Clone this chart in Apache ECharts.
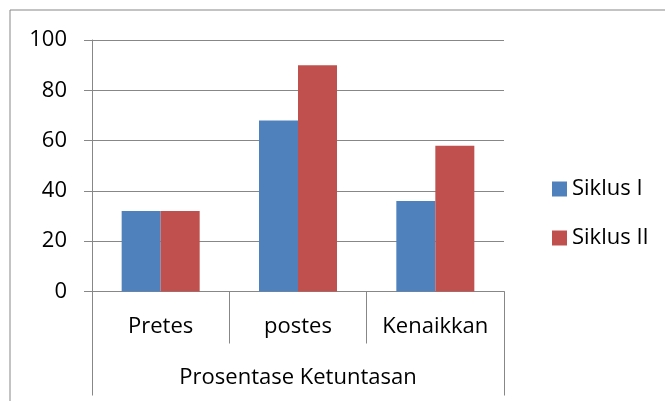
<!DOCTYPE html>
<html>
<head>
<meta charset="utf-8">
<script src="https://cdn.jsdelivr.net/npm/echarts@6/dist/echarts.min.js"></script>
<style>
html,body{margin:0;padding:0;background:#fff;}
#c{width:665px;height:401px;}
</style>
</head>
<body>
<div id="c"></div>
<script>
const categories = ['Pretes', 'postes', 'Kenaikkan'];
const groupLabel = ['Prosentase Ketuntasan'];
const siklus1 = [32, 68, 36];
const siklus2 = [32, 90, 58];
const seriesNames = ['Siklus I', 'Siklus II'];

const FONT = '"Open Sans", "Noto Sans", sans-serif';
const LINE = '#878787';
const chart = echarts.init(document.getElementById('c'), null, {renderer: 'canvas'});
chart.setOption({
  animation: false,
  backgroundColor: '#fff',
  textStyle: {fontFamily: FONT},
  graphic: [{
    type: 'rect',
    shape: {x: 10, y: 10, width: 700, height: 450},
    style: {fill: 'none', stroke: LINE, lineWidth: 1},
    silent: true
  }],
  legend: {
    orient: 'vertical',
    left: 547,
    top: 173,
    itemWidth: 15,
    itemHeight: 15,
    itemGap: 27,
    itemTextGap: 7,
    icon: 'rect',
    textStyle: {fontFamily: FONT, fontSize: 22, color: '#000', lineHeight: 22},
    data: seriesNames
  },
  grid: {left: 92, top: 40, width: 412, height: 251.5},
  xAxis: [{
    type: 'category',
    data: categories,
    position: 'bottom',
    axisLine: {show: true, lineStyle: {color: LINE, width: 1}},
    axisTick: {show: true, interval: 0, length: 52, lineStyle: {color: LINE, width: 1}},
    axisLabel: {interval: 0, margin: 24, fontSize: 22, lineHeight: 22, color: '#000', fontFamily: FONT}
  }, {
    type: 'category',
    data: groupLabel,
    position: 'bottom',
    axisLine: {show: false},
    axisTick: {show: true, interval: 0, length: 104, lineStyle: {color: LINE, width: 1}},
    axisLabel: {interval: 0, margin: 75, fontSize: 22, lineHeight: 22, color: '#000', fontFamily: FONT}
  }],
  yAxis: {
    type: 'value',
    min: 0,
    max: 100,
    interval: 20,
    axisLine: {show: true, lineStyle: {color: LINE, width: 1}},
    axisTick: {show: true, length: 8, lineStyle: {color: LINE, width: 1}},
    splitLine: {show: true, lineStyle: {color: LINE, width: 1}},
    axisLabel: {margin: 25, fontSize: 22, color: '#000', fontFamily: FONT}
  },
  series: [{
    name: seriesNames[0],
    type: 'bar',
    data: siklus1,
    barWidth: '28.4%',
    barGap: '0%',
    itemStyle: {color: '#4F81BD'}
  }, {
    name: seriesNames[1],
    type: 'bar',
    data: siklus2,
    barWidth: '28.4%',
    barGap: '0%',
    itemStyle: {color: '#C0504D'}
  }]
});
</script>
</body>
</html>
